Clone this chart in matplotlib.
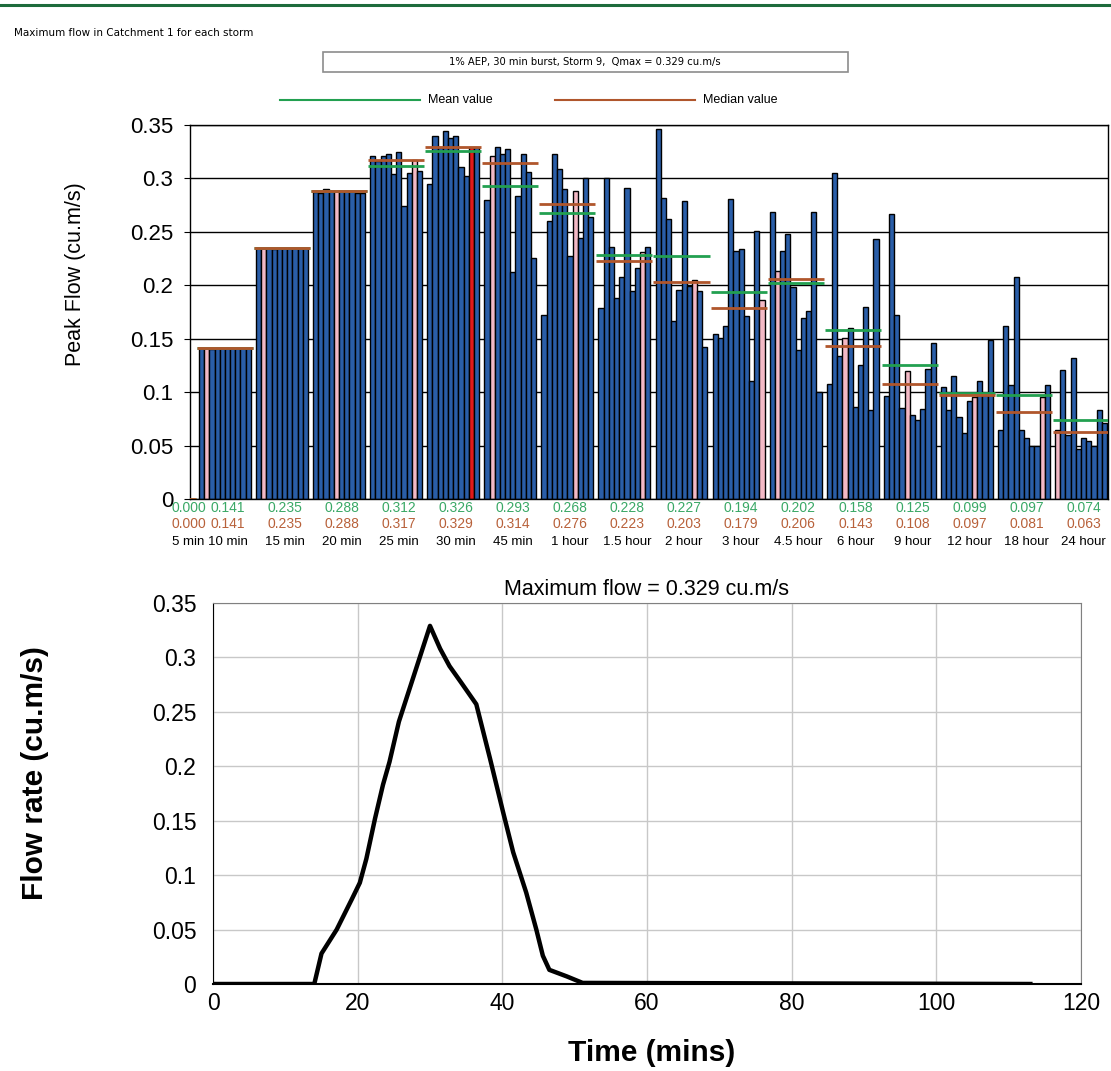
import matplotlib
matplotlib.use('Agg')
import matplotlib.pyplot as plt
from matplotlib.lines import Line2D
from matplotlib.patches import Rectangle

plt.rcParams['font.family'] = ['Liberation Sans', 'DejaVu Sans']

# storm durations and peak flow of the 10 storms in each duration
durations = ['5 min', '10 min', '15 min', '20 min', '25 min', '30 min', '45 min',
             '1 hour', '1.5 hour', '2 hour', '3 hour', '4.5 hour', '6 hour',
             '9 hour', '12 hour', '18 hour', '24 hour']

p_5min = [0.0, 0.0, 0.0, 0.0, 0.0, 0.0, 0.0, 0.0, 0.0, 0.0]
p_10min = [0.141, 0.141, 0.140, 0.141, 0.141, 0.141, 0.141, 0.141, 0.141, 0.141]
p_15min = [0.235, 0.235, 0.235, 0.234, 0.235, 0.235, 0.235, 0.235, 0.235, 0.235]
p_20min = [0.287, 0.286, 0.290, 0.288, 0.288, 0.288, 0.288, 0.288, 0.286, 0.286]
p_25min = [0.321, 0.316, 0.321, 0.323, 0.304, 0.325, 0.274, 0.305, 0.317, 0.307]
p_30min = [0.295, 0.340, 0.329, 0.344, 0.338, 0.340, 0.311, 0.302, 0.329, 0.329]
p_45min = [0.280, 0.321, 0.329, 0.323, 0.328, 0.212, 0.284, 0.323, 0.306, 0.226]
p_1h = [0.172, 0.260, 0.323, 0.309, 0.290, 0.227, 0.288, 0.244, 0.300, 0.264]
p_1_5h = [0.179, 0.300, 0.236, 0.188, 0.208, 0.291, 0.195, 0.216, 0.231, 0.236]
p_2h = [0.346, 0.282, 0.262, 0.167, 0.196, 0.279, 0.199, 0.205, 0.195, 0.142]
p_3h = [0.154, 0.151, 0.162, 0.281, 0.232, 0.234, 0.171, 0.110, 0.251, 0.186]
p_4_5h = [0.269, 0.213, 0.232, 0.248, 0.198, 0.139, 0.169, 0.176, 0.269, 0.100]
p_6h = [0.108, 0.305, 0.134, 0.151, 0.160, 0.086, 0.125, 0.180, 0.083, 0.243]
p_9h = [0.096, 0.267, 0.172, 0.085, 0.120, 0.079, 0.074, 0.084, 0.122, 0.146]
p_12h = [0.105, 0.083, 0.115, 0.077, 0.062, 0.092, 0.095, 0.110, 0.097, 0.149]
p_18h = [0.065, 0.162, 0.107, 0.208, 0.065, 0.057, 0.050, 0.050, 0.095, 0.107]
p_24h = [0.065, 0.121, 0.060, 0.132, 0.047, 0.057, 0.054, 0.050, 0.083, 0.071]

peaks = [p_5min, p_10min, p_15min, p_20min, p_25min, p_30min, p_45min, p_1h,
         p_1_5h, p_2h, p_3h, p_4_5h, p_6h, p_9h, p_12h, p_18h, p_24h]

mean_vals = [0.000, 0.141, 0.235, 0.288, 0.312, 0.326, 0.293, 0.268, 0.228,
             0.227, 0.194, 0.202, 0.158, 0.125, 0.099, 0.097, 0.074]
median_vals = [0.000, 0.141, 0.235, 0.288, 0.317, 0.329, 0.314, 0.276, 0.223,
               0.203, 0.179, 0.206, 0.143, 0.108, 0.097, 0.081, 0.063]

# storm nearest the median (pink) and the selected storm (red)
median_storm = [None, 1, 1, 4, 8, None, 1, 6, 8, 7, 9, 1, 3, 4, 6, 8, 0]
selected_duration = 5
selected_storm = 8

# hydrograph of the selected storm
time_min = [0, 14.0, 15.0, 17.1, 19.2, 20.3, 21.2, 22.4, 23.5, 24.4, 25.7, 30.0,
            31.4, 32.7, 34.3, 36.4, 38.3, 40.1, 41.5, 43.3, 44.7, 45.6, 46.5,
            48.9, 51.1, 113]
flow = [0, 0, 0.028, 0.050, 0.078, 0.093, 0.115, 0.152, 0.183, 0.204, 0.241, 0.329,
        0.308, 0.292, 0.277, 0.257, 0.207, 0.158, 0.121, 0.084, 0.050, 0.026, 0.013,
        0.007, 0.001, 0]

W, H = 1111, 1071
fig = plt.figure(figsize=(W / 100, H / 100), dpi=100)


def fx(x):
    return x / W


def fy(y):
    return 1 - y / H


blue = '#2a5ea8'
pink = '#f3b9c5'
red = '#e21a1a'
mean_col = '#22a050'
median_col = '#b0562c'
mean_txt = '#3aa866'
median_txt = '#b8613a'

# header
fig.add_artist(Line2D([0, 1], [fy(5), fy(5)], transform=fig.transFigure,
                      color='#1d6b3c', lw=2.2))
fig.text(fx(14), fy(33), 'Maximum flow in Catchment 1 for each storm',
         fontsize=7.5, family='DejaVu Sans', va='center')
fig.add_artist(Rectangle((fx(323), fy(72)), fx(525), 20 / H, transform=fig.transFigure,
                         facecolor='white', edgecolor='#8c8c8c', lw=1.2))
fig.text(fx(585), fy(62), '1% AEP, 30 min burst, Storm 9,  Qmax = 0.329 cu.m/s',
         fontsize=7.2, family='DejaVu Sans', ha='center', va='center')
fig.add_artist(Line2D([fx(280), fx(420)], [fy(100), fy(100)], transform=fig.transFigure,
                      color=mean_col, lw=1.5))
fig.text(fx(428), fy(100), 'Mean value', fontsize=9, va='center')
fig.add_artist(Line2D([fx(555), fx(695)], [fy(100), fy(100)], transform=fig.transFigure,
                      color=median_col, lw=1.5))
fig.text(fx(703), fy(100), 'Median value', fontsize=9, va='center')

# peak flow bar chart
ax = fig.add_axes([fx(190), fy(499), 918 / W, 374 / H])
for g, vals in enumerate(peaks):
    xs = [11 * g + s + 0.5 for s in range(len(vals))]
    cols = [blue] * len(vals)
    if median_storm[g] is not None:
        cols[median_storm[g]] = pink
    if g == selected_duration:
        cols[selected_storm] = red
    ax.bar(xs, vals, width=1.0, color=cols, edgecolor='black', linewidth=1.0, zorder=2)
    ax.hlines(mean_vals[g], 11 * g - 0.4, 11 * g + 10.4, color=mean_col, lw=2, zorder=3)
    ax.hlines(median_vals[g], 11 * g - 0.4, 11 * g + 10.4, color=median_col, lw=2, zorder=3)

ax.set_xlim(9.27, 186.2)
ax.set_ylim(0, 0.35)
ax.set_yticks([0, 0.05, 0.1, 0.15, 0.2, 0.25, 0.3, 0.35])
ax.set_yticklabels(['0', '0.05', '0.1', '0.15', '0.2', '0.25', '0.3', '0.35'])
ax.tick_params(axis='y', labelsize=16, length=4, pad=8)
ax.set_xticks([])
ax.grid(axis='y', color='black', lw=1, zorder=1)
for sp in ax.spines.values():
    sp.set_color('black')
    sp.set_linewidth(1)
fig.text(fx(75), fy(274), 'Peak Flow (cu.m/s)', rotation=90, fontsize=15.5,
         ha='center', va='center')

trans = ax.get_xaxis_transform()
for g, name in enumerate(durations):
    cx = 11 * g + 5.5 if g > 0 else 9.0
    bb = dict(facecolor='white', edgecolor='none', pad=0.3) if g == 1 else None
    ax.text(cx, -0.024, '%.3f' % mean_vals[g], transform=trans, ha='center',
            va='center', fontsize=10, color=mean_txt)
    ax.text(cx, -0.067, '%.3f' % median_vals[g], transform=trans, ha='center',
            va='center', fontsize=10, color=median_txt)
    ax.text(cx, -0.115, name, transform=trans, ha='center', va='center',
            fontsize=9.5, color='black', bbox=bb)

# hydrograph
ax2 = fig.add_axes([fx(213), fy(984), 868 / W, 381 / H])
ax2.plot(time_min, flow, color='black', lw=3.2, solid_joinstyle='round', zorder=3)
ax2.set_xlim(0, 120)
ax2.set_ylim(0, 0.35)
ax2.set_xticks([0, 20, 40, 60, 80, 100, 120])
ax2.set_yticks([0, 0.05, 0.1, 0.15, 0.2, 0.25, 0.3, 0.35])
ax2.set_yticklabels(['0', '0.05', '0.1', '0.15', '0.2', '0.25', '0.3', '0.35'])
ax2.tick_params(labelsize=16.5, length=0)
ax2.tick_params(axis='y', pad=12)
ax2.tick_params(axis='x', pad=6)
ax2.grid(color='#c8c8c8', lw=1, zorder=0)
ax2.spines['left'].set_color('black')
ax2.spines['bottom'].set_color('black')
ax2.spines['bottom'].set_linewidth(1.5)
ax2.spines['top'].set_color('#808080')
ax2.spines['right'].set_color('#808080')
ax2.set_title('Maximum flow = 0.329 cu.m/s', fontsize=15.5, pad=6)
fig.text(fx(35), fy(773), 'Flow rate (cu.m/s)', rotation=90, fontsize=21.5,
         fontweight='bold', ha='center', va='center')
fig.text(fx(652), fy(1053), 'Time (mins)', fontsize=21.5, fontweight='bold',
         ha='center', va='center')

fig.savefig('out.png', dpi=100)
